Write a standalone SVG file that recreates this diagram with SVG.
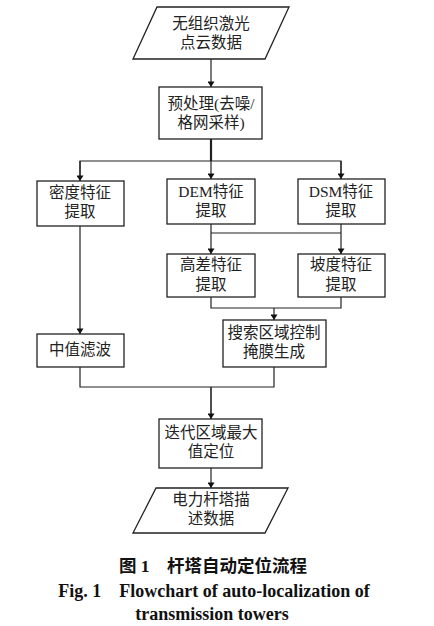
<svg xmlns="http://www.w3.org/2000/svg" width="434" height="626" viewBox="0 0 434 626">
<defs>
<marker id="ah" viewBox="0 0 8 10" refX="8" refY="5" markerWidth="6" markerHeight="7" markerUnits="userSpaceOnUse" orient="auto">
<path d="M0,0 L8,5 L0,10 Z" fill="#111"/>
</marker>
</defs>
<style>
.n{fill:#fff;stroke:#222;stroke-width:1.3}
.t{font-family:"Liberation Serif","Noto Sans CJK SC",serif;font-size:15.5px;fill:#222;text-anchor:middle}
.c{fill:none;stroke:#222;stroke-width:1.2}
.a{marker-end:url(#ah)}
.cap{font-family:"Liberation Serif","Noto Sans CJK SC",serif;font-weight:bold;fill:#111;text-anchor:middle}
</style>
<rect width="434" height="626" fill="#fff"/>
<g id="connectors">
<line class="c a" x1="211" y1="59" x2="211" y2="87"/>
<line class="c" x1="211" y1="139" x2="211" y2="161" style="stroke-width:2.2"/>
<polyline class="c" points="80,180 80,161 341,161 341,180"/>
<line class="c a" x1="80" y1="161" x2="80" y2="181"/>
<line class="c a" x1="211" y1="161" x2="211" y2="179"/>
<line class="c a" x1="341" y1="161" x2="341" y2="179"/>
<line class="c" x1="211" y1="224" x2="211" y2="233"/>
<line class="c" x1="341" y1="224" x2="341" y2="233"/>
<line class="c" x1="211" y1="233" x2="341" y2="233"/>
<line class="c a" x1="211" y1="233" x2="211" y2="254"/>
<line class="c a" x1="341" y1="233" x2="341" y2="254"/>
<polyline class="c" points="211,297 211,308 341,308 341,297"/>
<line class="c a" x1="274" y1="308" x2="274" y2="320"/>
<line class="c a" x1="80" y1="226" x2="80" y2="334"/>
<polyline class="c" points="80,367 80,387 274,387 274,367"/>
<line class="c a" x1="211" y1="387" x2="211" y2="419" style="stroke-width:1.6"/>
<line class="c a" x1="211" y1="468" x2="211" y2="488"/>
</g>
<g id="n1">
<polygon class="n" points="157,7 289,7 265,59 133,59"/>
<text class="t" x="211" y="29">无组织激光</text>
<text class="t" x="211" y="48">点云数据</text>
</g>
<g id="n2">
<rect class="n" x="159" y="87" width="103" height="52"/>
<text class="t" x="211" y="109">预处理(去噪/</text>
<text class="t" x="211" y="128">格网采样)</text>
</g>
<g id="n3">
<rect class="n" x="37" y="181" width="87" height="45"/>
<text class="t" x="80" y="198">密度特征</text>
<text class="t" x="80" y="217">提取</text>
</g>
<g id="n4">
<rect class="n" x="167" y="179" width="88" height="45"/>
<text class="t" x="211" y="197">DEM特征</text>
<text class="t" x="211" y="216">提取</text>
</g>
<g id="n5">
<rect class="n" x="298" y="179" width="87" height="45"/>
<text class="t" x="341" y="197">DSM特征</text>
<text class="t" x="341" y="216">提取</text>
</g>
<g id="n6">
<rect class="n" x="167" y="254" width="88" height="43"/>
<text class="t" x="211" y="270">高差特征</text>
<text class="t" x="211" y="290">提取</text>
</g>
<g id="n7">
<rect class="n" x="298" y="254" width="87" height="43"/>
<text class="t" x="341" y="270">坡度特征</text>
<text class="t" x="341" y="290">提取</text>
</g>
<g id="n8">
<rect class="n" x="37" y="334" width="87" height="33"/>
<text class="t" x="80" y="355">中值滤波</text>
</g>
<g id="n9">
<rect class="n" x="223" y="320" width="103" height="47"/>
<text class="t" x="274" y="338">搜索区域控制</text>
<text class="t" x="274" y="357">掩膜生成</text>
</g>
<g id="n10">
<rect class="n" x="159" y="419" width="103" height="49"/>
<text class="t" x="211" y="438">迭代区域最大</text>
<text class="t" x="211" y="457">值定位</text>
</g>
<g id="n11">
<polygon class="n" points="156,488 288,488 265,533 133,533"/>
<text class="t" x="211" y="505">电力杆塔描</text>
<text class="t" x="211" y="524">述数据</text>
</g>
<g id="caption">
<text class="cap" x="213" y="572" style="font-size:17.5px" xml:space="preserve">图 1    杆塔自动定位流程</text>
<text class="cap" x="214" y="597" style="font-size:18px" xml:space="preserve">Fig. 1    Flowchart of auto-localization of</text>
<text class="cap" x="212" y="620" style="font-size:18px">transmission towers</text>
</g>
</svg>
